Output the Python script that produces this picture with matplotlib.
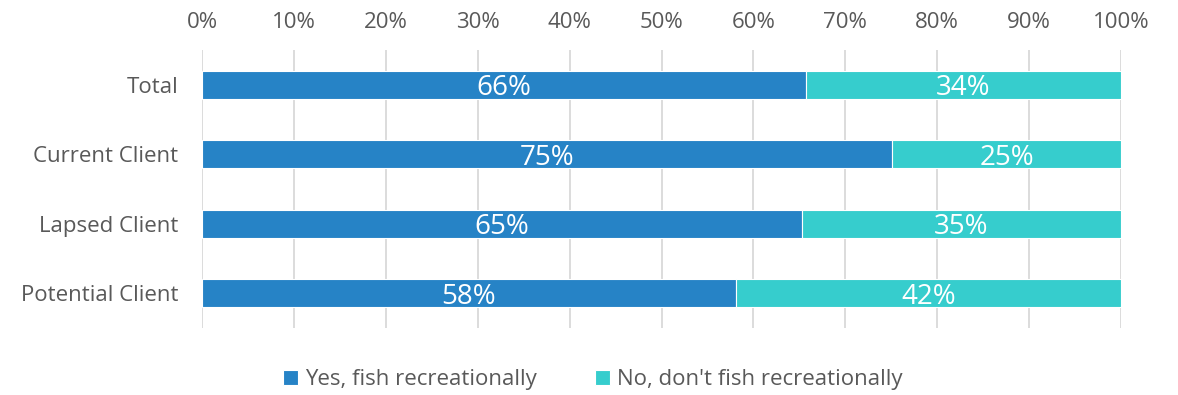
import matplotlib.pyplot as plt
import numpy as np

categories = ['Total', 'Current Client', 'Lapsed Client', 'Potential Client']
yes_vals = [65.7, 75.1, 65.3, 58.1]
no_vals = [34.3, 24.9, 34.7, 41.9]
series_names = ['Yes, fish recreationally', "No, don't fish recreationally"]
colors = ['#2683C6', '#36CDCD']

plt.rcParams['font.family'] = ['Open Sans', 'DejaVu Sans']
txt = '#595959'

fig = plt.figure(figsize=(11.78, 3.95), dpi=100)
ax = fig.add_axes([0.1715, 0.170, 0.7801, 0.703])

y = np.arange(len(categories))
b1 = ax.barh(y, yes_vals, height=0.4, color=colors[0], edgecolor='white', linewidth=0.8,
             label=series_names[0], zorder=3)
b2 = ax.barh(y, no_vals, left=yes_vals, height=0.4, color=colors[1], edgecolor='white',
             linewidth=0.8, label=series_names[1], zorder=3)

for bars, vals in [(b1, yes_vals), (b2, no_vals)]:
    for rect, v in zip(bars, vals):
        ax.text(rect.get_x() + rect.get_width() / 2, rect.get_y() + rect.get_height() / 2,
                f'{round(v):.0f}%', ha='center', va='center_baseline', color='white',
                fontsize=20, zorder=4)

ax.set_xlim(0, 100)
ax.set_ylim(3.5, -0.5)
ax.set_xticks(np.arange(0, 101, 10))
ax.set_xticklabels([f'{t}%' for t in range(0, 101, 10)])
ax.xaxis.tick_top()
ax.tick_params(axis='x', length=0, pad=12, labelsize=16, labelcolor=txt)
ax.set_yticks(y)
ax.set_yticklabels(categories)
ax.tick_params(axis='y', length=0, pad=17, labelsize=16, labelcolor=txt)
ax.grid(axis='x', color='#D9D9D9', linewidth=1.3, zorder=0)
for s in ax.spines.values():
    s.set_visible(False)

fig.legend(handles=[b1, b2], labels=series_names, loc='center', bbox_to_anchor=(0.503, 0.038),
           ncol=2, frameon=False, fontsize=16, labelcolor=txt, handlelength=0.7,
           handleheight=0.7, handletextpad=0.3, columnspacing=2.6)

fig.savefig('out.png', dpi=100)
